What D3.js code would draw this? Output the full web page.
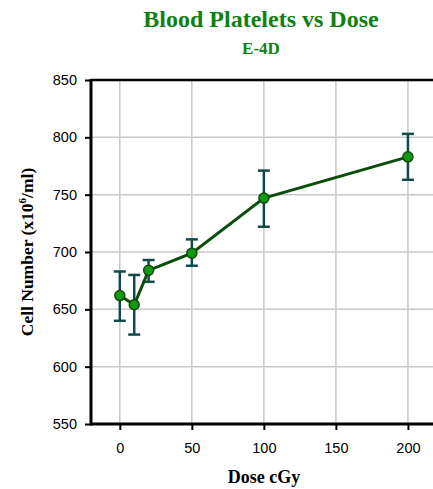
<!DOCTYPE html>
<html><head><meta charset="utf-8">
<script src="https://cdn.jsdelivr.net/npm/d3@7"></script>
<style>body{margin:0;background:#fff}svg{display:block}</style>
</head><body>
<script>
const doses = [0, 10, 20, 50, 100, 200];
const means = [662, 654, 684, 699, 747, 783];
const upper = [683, 680, 693, 711, 771, 803];
const lower = [640, 628, 674, 688, 722, 763];
const xTicks = [0, 50, 100, 150, 200];
const yTicks = [550, 600, 650, 700, 750, 800, 850];

const W = 433, H = 489;
const m = {left: 91, right: 0, top: 80, bottom: 65};
const svg = d3.select("body").append("svg").attr("width", W).attr("height", H);

const x = d3.scaleLinear().domain([-20, 217.4]).range([m.left, W - m.right]);
const y = d3.scaleLinear().domain([550, 850]).range([H - m.bottom, m.top]);

const g = svg.append("g");
// grid
g.selectAll(".vg").data(xTicks).join("line")
  .attr("x1", d => x(d)).attr("x2", d => x(d)).attr("y1", y(850)).attr("y2", y(550))
  .attr("stroke", "#c8c8c8").attr("stroke-width", 1.5);
g.selectAll(".hg").data(yTicks).join("line")
  .attr("x1", x(-20)).attr("x2", W).attr("y1", d => y(d)).attr("y2", d => y(d))
  .attr("stroke", "#c8c8c8").attr("stroke-width", 1.5);

// axes
const ya = svg.append("g").attr("transform", `translate(${m.left},0)`)
  .call(d3.axisLeft(y).tickValues(yTicks).tickSize(6).tickPadding(8));
const xa = svg.append("g").attr("transform", `translate(0,${H - m.bottom})`)
  .call(d3.axisBottom(x).tickValues(xTicks).tickSize(6).tickPadding(13));
[ya, xa].forEach(a => {
  a.select(".domain").remove();
  a.selectAll(".tick line").attr("stroke", "#000").attr("stroke-width", 2);
  a.selectAll("text").attr("font-family", "Liberation Sans, Arial, sans-serif")
    .attr("font-size", 14.5).attr("fill", "#000");
});
// frame lines
svg.append("line").attr("x1", x(-20)).attr("x2", W).attr("y1", y(850)).attr("y2", y(850))
  .attr("stroke", "#000").attr("stroke-width", 2.5);
svg.append("line").attr("x1", x(-20)).attr("x2", W).attr("y1", y(550)).attr("y2", y(550))
  .attr("stroke", "#000").attr("stroke-width", 3);
svg.append("line").attr("x1", x(-20)).attr("x2", x(-20)).attr("y1", y(850) - 1).attr("y2", y(550) + 1.5)
  .attr("stroke", "#000").attr("stroke-width", 3);

// error bars
const eb = svg.append("g").attr("stroke", "#124a48").attr("stroke-width", 2.5);
doses.forEach((d, i) => {
  eb.append("line").attr("x1", x(d)).attr("x2", x(d)).attr("y1", y(upper[i])).attr("y2", y(lower[i]));
  eb.append("line").attr("x1", x(d) - 6).attr("x2", x(d) + 6).attr("y1", y(upper[i])).attr("y2", y(upper[i]));
  eb.append("line").attr("x1", x(d) - 6).attr("x2", x(d) + 6).attr("y1", y(lower[i])).attr("y2", y(lower[i]));
});

// line
const pts = doses.map((d, i) => [d, means[i]]);
svg.append("path").datum(pts)
  .attr("d", d3.line().x(d => x(d[0])).y(d => y(d[1])))
  .attr("fill", "none").attr("stroke", "#0b4d0b").attr("stroke-width", 3);
svg.selectAll(".pt").data(pts).join("circle")
  .attr("cx", d => x(d[0])).attr("cy", d => y(d[1])).attr("r", 5)
  .attr("fill", "#119a11").attr("stroke", "#0b4d0b").attr("stroke-width", 1.5);

// titles
svg.append("text").attr("x", 261).attr("y", 27).attr("text-anchor", "middle")
  .attr("font-family", "Liberation Serif, Times New Roman, serif").attr("font-weight", "bold")
  .attr("font-size", 24).attr("fill", "#108010").text("Blood Platelets vs Dose");
svg.append("text").attr("x", 261).attr("y", 54).attr("text-anchor", "middle")
  .attr("font-family", "Liberation Serif, Times New Roman, serif").attr("font-weight", "bold")
  .attr("font-size", 17).attr("fill", "#108010").text("E-4D");
svg.append("text").attr("x", 264).attr("y", 483).attr("text-anchor", "middle")
  .attr("font-family", "Liberation Serif, Times New Roman, serif").attr("font-weight", "bold")
  .attr("font-size", 18).attr("fill", "#000").text("Dose cGy");
const yl = svg.append("text").attr("transform", "translate(33,252) rotate(-90)").attr("text-anchor", "middle")
  .attr("font-family", "Liberation Serif, Times New Roman, serif").attr("font-weight", "bold")
  .attr("font-size", 17.5).attr("fill", "#000");
yl.append("tspan").text("Cell Number (x10");
yl.append("tspan").attr("font-size", 11).attr("dy", -7).text("6");
yl.append("tspan").attr("dy", 7).text("/ml)");
</script>
</body></html>
